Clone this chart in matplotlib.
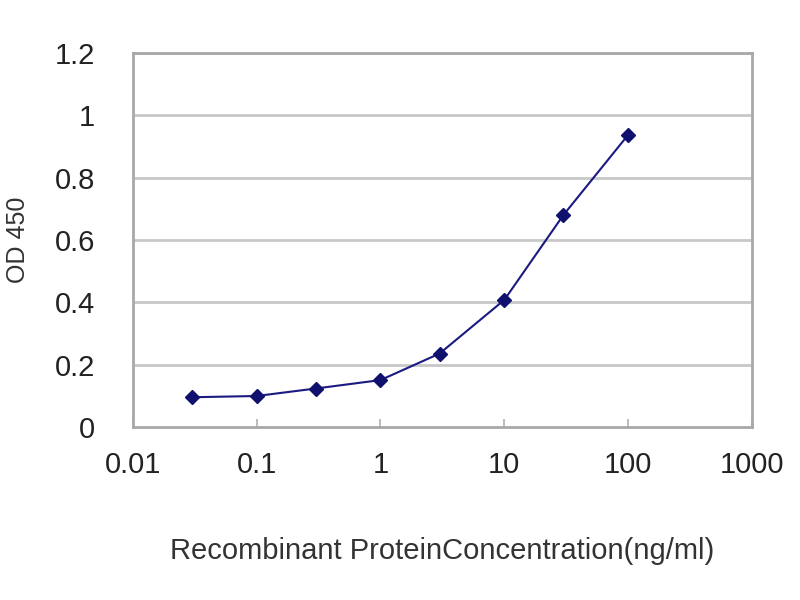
import matplotlib
matplotlib.use('Agg')
import matplotlib.pyplot as plt
from matplotlib.ticker import FixedLocator, FixedFormatter, NullLocator

plt.rcParams['font.family'] = ['Liberation Sans', 'DejaVu Sans']

# data
conc = [0.03, 0.1, 0.3, 1, 3, 10, 30, 100]
od450 = [0.096, 0.100, 0.124, 0.151, 0.236, 0.408, 0.680, 0.937]

x_ticks = [0.01, 0.1, 1, 10, 100, 1000]
x_labels = ['0.01', '0.1', '1', '10', '100', '1000']
y_ticks = [0, 0.2, 0.4, 0.6, 0.8, 1, 1.2]
y_labels = ['0', '0.2', '0.4', '0.6', '0.8', '1', '1.2']

fig = plt.figure(figsize=(8, 6), dpi=100)
ax = fig.add_axes([0.166, 0.288, 0.774, 0.624])

ax.set_xscale('log')
ax.set_xlim(0.01, 1000)
ax.set_ylim(0, 1.2)

# gridlines
for y in y_ticks[1:]:
    ax.axhline(y, color='#c8c8c8', lw=2, zorder=0)

ax.plot(conc, od450, color='#1a1a80', lw=1.5, marker='D', markersize=7,
        markerfacecolor='#10106e', markeredgecolor='#10106e', zorder=3)

ax.xaxis.set_major_locator(FixedLocator(x_ticks))
ax.xaxis.set_major_formatter(FixedFormatter(x_labels))
ax.xaxis.set_minor_locator(NullLocator())
ax.yaxis.set_major_locator(FixedLocator(y_ticks))
ax.yaxis.set_major_formatter(FixedFormatter(y_labels))

for s in ax.spines.values():
    s.set_color('#a8a8a8')
    s.set_linewidth(2)

ax.tick_params(axis='x', direction='in', length=6, width=1.2, color='#b0b0b0',
               labelsize=21, pad=17, labelcolor='#222222')
ax.tick_params(axis='y', length=0, labelsize=21, pad=27, labelcolor='#222222')

ax.set_xlabel('Recombinant ProteinConcentration(ng/ml)', fontsize=21,
              labelpad=42, color='#333333')
ax.set_ylabel('OD 450', fontsize=18, labelpad=18, color='#333333')

fig.savefig('out.png', dpi=100)
